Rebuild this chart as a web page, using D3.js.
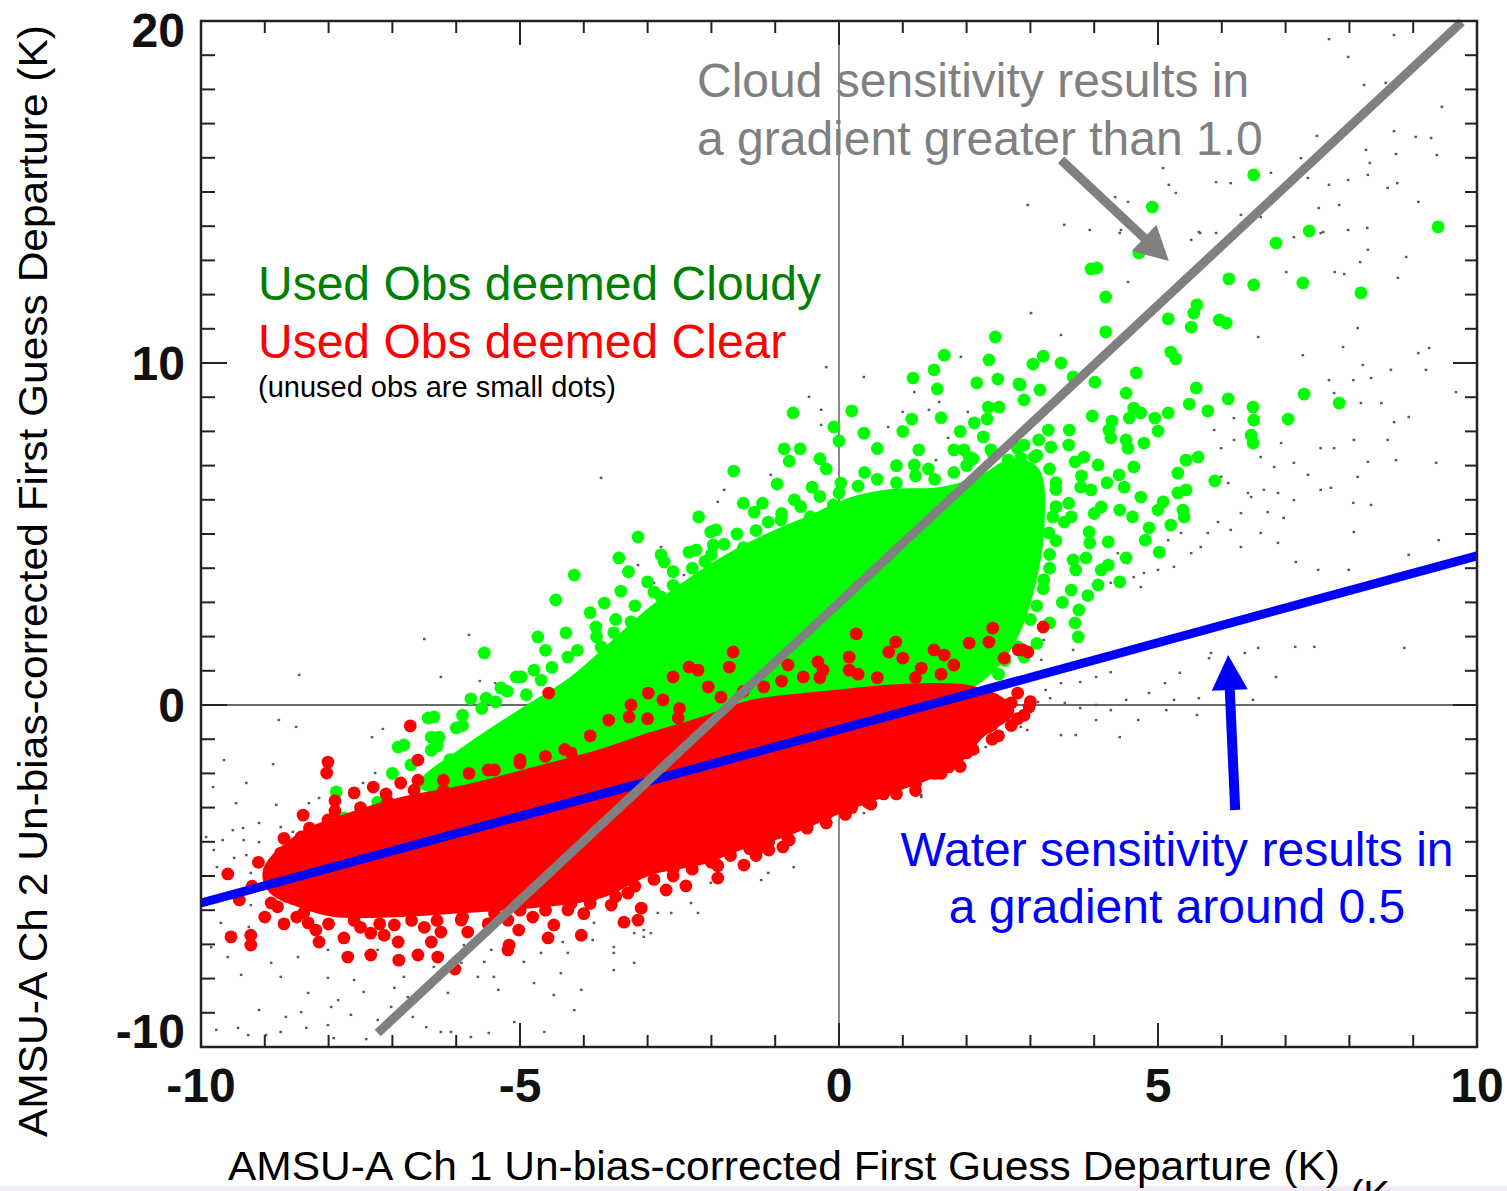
<!DOCTYPE html>
<html><head><meta charset="utf-8">
<script src="https://cdn.jsdelivr.net/npm/d3@7"></script>
<style>body{margin:0;background:#fff;overflow:hidden}svg{display:block}</style>
</head><body>
<svg id="chart" width="1507" height="1191"></svg>
<script>
// ---------------- data ----------------
const xTickLabels = [-10, -5, 0, 5, 10];
const yTickLabels = [-10, 0, 10, 20];
const xMinorTicks = d3.range(-10, 11, 1);
const yMinorTicks = d3.range(-10, 21, 1);

// Gradient lines (Ch1 dep, Ch2 dep) end points
const cloudLine = [[-7.23, -9.59], [9.76, 19.97]];   // gradient ~1.74
const waterLine = [[-10, -5.79], [10, 4.36]];        // gradient ~0.51
// annotation arrows (start -> tip), data units
const cloudArrow = [[3.48, 15.94], [5.17, 12.98]];
const waterArrow = [[6.21, -3.07], [6.10, 1.46]];

// dense (overplotted) cores of used observations: outline of the solid area
const greenCore = [[-6.55,-2.34],[-5.77,-1.17],[-4.98,-0.20],[-4.20,0.73],[-3.57,1.75],[-2.95,2.78],[-2.32,3.65],[-1.69,4.39],[-1.07,4.97],[-0.44,5.47],[0.19,5.99],[0.82,6.23],[1.60,6.29],[2.23,6.64],[2.70,7.11],[3.09,6.87],[3.17,5.12],[3.01,3.36],[2.77,2.05],[2.38,1.02],[1.91,0.44],[0.97,0.44],[-0.08,0.29],[-1.38,0.00],[-2.95,-0.94],[-4.78,-1.96],[-5.82,-2.49]];
const redCore = [[-8.98,-4.82],[-8.43,-3.80],[-7.65,-3.22],[-6.87,-2.78],[-5.82,-2.40],[-4.78,-1.90],[-3.73,-1.37],[-2.95,-0.88],[-2.16,-0.44],[-1.38,0.06],[-0.08,0.35],[0.97,0.53],[2.02,0.50],[2.54,0.15],[2.70,-0.20],[2.23,-0.88],[1.80,-1.75],[0.97,-2.40],[0.45,-2.78],[-0.08,-3.16],[-0.80,-3.74],[-1.54,-4.15],[-2.16,-4.59],[-2.95,-4.88],[-3.73,-5.56],[-4.78,-5.85],[-5.82,-5.99],[-6.87,-6.11],[-7.92,-6.11],[-8.43,-5.85],[-8.90,-5.41]];

// individual used obs deemed cloudy (green)
const cloudyObs = [[9.39,13.98],[6.50,15.50],[4.91,14.56],[4.70,13.22],[3.95,12.75],[4.04,12.78],[6.85,13.51],[7.37,13.86],[6.11,12.46],[6.50,12.28],[7.27,12.34],[8.18,12.05],[4.18,11.93],[5.61,11.70],[5.56,11.46],[5.16,11.29],[5.52,11.05],[5.96,11.26],[6.07,11.17],[4.18,10.91],[5.20,10.32],[5.28,10.12],[3.20,10.20],[3.04,9.97],[3.48,10.00],[4.66,9.71],[4.01,9.44],[3.67,9.59],[2.84,9.36],[3.15,9.21],[4.50,9.12],[5.60,9.27],[7.29,9.09],[7.84,8.83],[2.90,8.92],[5.16,8.54],[5.49,8.80],[5.78,8.60],[6.10,8.95],[6.49,8.71],[6.50,8.33],[7.04,8.36],[6.46,7.89],[6.49,7.66],[3.97,8.45],[4.28,8.30],[4.55,8.39],[4.62,8.68],[4.73,8.54],[4.95,8.39],[5.00,8.01],[3.61,8.04],[3.28,8.04],[3.13,7.75],[3.32,7.54],[4.23,8.04],[4.26,7.81],[4.50,7.75],[4.53,7.51],[4.78,7.66],[3.84,7.25],[4.06,7.02],[3.70,7.11],[2.85,7.22],[2.66,7.02],[4.62,6.96],[5.44,7.16],[5.63,7.25],[5.31,6.78],[5.89,6.55],[4.39,6.73],[4.47,6.37],[4.73,6.08],[5.31,6.20],[5.44,6.29],[3.79,6.37],[3.95,6.29],[4.11,5.79],[4.40,5.70],[5.00,5.70],[5.08,5.94],[5.39,5.70],[5.41,5.50],[5.20,5.26],[4.86,5.18],[4.80,4.82],[5.02,4.47],[4.22,4.77],[3.92,5.06],[3.93,4.74],[3.64,5.50],[3.53,5.35],[3.29,5.03],[3.67,4.24],[3.87,4.30],[4.11,3.95],[4.22,4.09],[4.06,3.51],[3.71,3.95],[3.64,3.36],[3.21,3.66],[3.76,2.78],[3.75,1.99],
[-0.72,8.54],[-0.08,8.13],[0.00,7.72],[0.39,7.95],[-0.86,7.49],[-0.61,7.49],[-0.78,7.13],[-1.65,6.84],[-0.97,6.46],[-0.42,6.37],[0.03,6.49],[1.16,9.56],[1.49,9.80],[1.54,9.24],[1.65,10.23],[2.35,10.09],[2.16,9.42],[2.49,9.53],[2.45,10.76],[2.82,9.39],[1.14,8.36],[2.34,8.71],[2.51,8.71],[2.32,8.36],[2.12,8.25],[2.26,7.84],[1.25,7.46],[1.18,7.02],[1.80,7.46],[1.96,7.46],[2.04,7.25],[2.38,7.46],[2.65,7.16],[3.06,7.25],[-1.33,5.64],[-1.11,5.35],[-0.91,5.41],[-0.45,5.50],[-0.09,5.85],[-3.15,4.91],[-3.45,4.30],[-2.79,4.39],[-2.74,4.18],[-2.35,4.47],[-2.24,4.53],[-2.01,5.06],[-1.93,5.12],[-1.97,4.68],[-3.42,3.33],[-3.68,2.98],[-2.79,3.16],[-2.52,3.16],[-3.26,2.43],
[-4.72,1.99],[-4.28,2.11],[-3.81,2.28],[-5.56,1.52],[-5.06,0.82],[-4.98,0.82],[-6.44,-0.38],[-6.35,-0.35],[-6.00,-0.67],[-6.91,-1.23],[-6.82,-1.17],[-7.88,-2.54],[-7.49,-3.13],[-7.23,-2.84],[-7.76,-3.30],[-6.71,-1.75],[-6.39,-0.94],[-6.27,-0.94],[-6.39,-1.32],[-5.77,0.18],[-5.53,0.20],[-4.78,1.02],[-4.67,0.73],[-5.38,0.09],[-4.25,1.40],[-3.73,1.70],[-3.53,2.11],[-4.15,3.80],[-4.44,3.07],
[-3.0,3.6],[-2.6,3.9],[-2.1,4.2],[-3.3,3.9],[-1.6,5.0],[-1.2,5.9],[-0.7,6.0],[-0.2,6.9],[0.4,6.8],[0.9,7.0],[1.4,6.9],[0.6,7.5],[-0.3,7.2],[1.9,8.0],[2.0,7.0],[2.9,7.6],[3.4,6.5],[3.6,5.9],[3.4,5.8],[3.3,4.4],[3.5,3.0],[3.3,2.4],[3.1,1.8],[2.9,1.4],[-4.6,1.6],[-5.2,0.4],[-5.9,-0.3],[-6.1,-1.6],[-7.0,-2.0],[-3.9,2.7],[-2.2,5.5],[-1.5,5.9],[1.0,8.0],[0.2,8.6],[1.6,8.4],[2.6,6.4],[3.8,6.7],[4.2,6.5],[3.6,7.6],[4.0,5.6],[4.6,5.5],[4.5,4.3],[4.4,3.6],[3.9,3.2],[3.7,2.4],
[-6.3,-1.2],[-5.9,-0.6],[-5.6,-0.1],[-5.3,0.5],[-4.9,0.3],[-4.5,1.1],[-4.1,1.6],[-3.8,2.0],[-3.5,2.5],[-3.2,2.9],[-2.9,3.3],[-2.6,3.5],[-2.3,4.0],[-2.0,4.4],[-1.8,4.7],[-1.5,4.6],[-1.3,5.1],[-0.9,5.6],[-0.6,5.8],[-0.3,6.1],[0.0,6.2],[0.3,6.4],[0.6,6.6],[0.9,6.5],[1.2,6.7],[1.5,6.6],[1.8,6.8],[2.1,7.2],[2.4,7.4],[2.8,7.5],[3.1,7.3],[3.3,6.9],[3.4,6.3],[3.35,5.5],[3.4,4.8],[3.3,4.0],[3.2,3.4],[3.1,2.9],[3.0,2.5],[2.8,1.7],[2.6,1.3],[2.5,0.9]];

// individual used obs deemed clear (red)
const clearObs = [[-4.55,0.35],[-6.72,-0.61],[-6.60,-1.61],[-8.01,-1.67],[-8.03,-1.99],[-7.60,-2.57],[-6.87,-2.28],[-6.66,-2.49],[-7.07,-2.84],[-8.40,-3.22],[-8.01,-3.36],[-8.43,-3.86],[-8.75,-4.33],[-8.79,-4.53],[-9.58,-4.94],[-8.90,-5.03],[-8.90,-5.79],[-9.53,-6.78],[-9.22,-6.73],[-9.22,-7.02],[-8.56,-5.50],[-8.39,-6.08],[-8.32,-6.37],[-8.20,-6.58],[-8.15,-6.93],[-7.76,-6.81],[-7.70,-7.37],[-7.34,-7.31],[-7.34,-6.67],[-6.97,-6.43],[-7.13,-6.73],[-6.91,-6.93],[-6.90,-7.46],[-6.60,-7.31],[-6.39,-6.93],[-6.24,-6.64],[-5.92,-6.29],[-6.29,-7.37],[-5.82,-6.64],[-5.17,-7.02],[-5.02,-6.58],[-4.56,-6.81],[-4.04,-6.73],[-4.25,-5.99],[-3.57,-5.85],[-3.37,-6.35],[-3.15,-6.29],[-3.10,-5.94],[-3.86,-5.56],[-4.47,-6.43],[-5.19,-6.29],[-6.02,-7.72],[-5.19,-7.16],[-0.20,-3.45],[-0.78,-3.95],[-0.88,-4.15],[-1.22,-4.15],[-1.10,-4.24],[-1.49,-4.68],[-1.90,-5.06],[-2.40,-5.29],[-2.71,-5.41],[-3.31,-5.50],[0.45,-2.84],[1.72,-1.81],[1.76,-1.23],[1.49,-0.94],[2.12,-0.53],[2.34,-0.64],[2.49,-0.15],[2.98,-0.06],[2.70,0.06],[1.87,-0.23],[0.27,2.08],[0.89,1.84],[0.78,1.55],[1.00,1.37],[1.49,1.61],[1.65,1.46],[2.04,1.81],[2.35,1.84],[2.41,2.25],[3.20,2.28],[2.59,1.37],[2.81,1.61],[2.96,1.55],[0.16,1.40],[0.16,1.02],[-0.33,1.26],[-0.25,1.02],[-0.56,0.82],[-0.80,1.17],[-1.66,1.55],[-1.72,1.11],[-2.35,1.11],[-2.21,1.02],[-2.60,0.82],[-2.99,0.35],[-3.26,0.00],[-3.29,-0.35],[-3.61,-0.44],[-2.76,0.15],[-2.52,-0.38],[-2.05,0.53],[-1.85,0.23],[-1.18,0.53],[1.29,1.08],[1.80,1.17],[2.63,0.00],[2.40,-0.58],[2.10,-0.58],[1.74,-1.26],[1.44,-1.52],[0.78,-2.40],[2.88,1.61],
[-0.9,0.7],[-0.3,0.8],[0.3,0.9],[0.6,0.8],[1.2,0.8],[1.6,0.9],[-1.5,0.4],[-2.5,-0.1],[-3.0,-0.4],[-3.9,-0.9],[-4.3,-1.3],[-5.0,-1.6],[-5.5,-1.9],[-6.2,-2.2],[-7.3,-2.4],[-7.9,-2.8],[-8.6,-4.4],[-9.2,-5.3],[-9.4,-5.7],[-9.0,-6.2],[-8.7,-6.4],[-7.5,-6.5],[-6.5,-6.5],[-5.5,-6.4],[-4.8,-6.2],[-4.0,-6.1],[-2.6,-5.0],[-1.9,-4.7],[-1.3,-4.4],[-0.5,-3.6],[0.1,-3.2],[0.7,-2.6],[1.2,-2.3],[1.5,-2.0],[2.0,-1.4],[2.5,-0.9],[2.8,-0.4],
[-8.8,-5.9],[-8.5,-6.2],[-8.0,-6.4],[-7.6,-6.3],[-7.2,-6.4],[-6.7,-6.3],[-6.3,-6.3],[-5.9,-6.2],[-5.4,-6.1],[-5.0,-6.0],[-4.6,-6.0],[-4.2,-5.8],[-3.9,-5.8],[-3.5,-5.6],[-3.2,-5.3],[-2.9,-5.1],[-2.6,-4.8],[-2.3,-4.8],[-2.0,-4.6],[-1.7,-4.4],[-1.4,-4.2],[-1.1,-4.0],[-0.8,-3.9],[-0.5,-3.5],[-0.2,-3.2],[0.2,-3.0],[0.5,-2.9],[0.9,-2.6],[1.2,-2.5],[1.6,-2.0],[1.9,-1.8],[2.1,-1.3],[2.4,-1.0],[2.7,-0.6],[2.9,-0.3],[3.0,0.1],[2.8,0.35],
[-9.1,-4.6],[-8.7,-3.9],[-8.3,-3.6],[-7.9,-3.1],[-7.5,-3.0],[-7.1,-2.6],[-6.6,-2.2],[-6.2,-2.5],[-5.8,-2.0],[-5.4,-1.9],[-5.0,-1.7],[-4.6,-1.5],[-4.2,-1.4]];

// unused obs (small dots)
const unusedObs = [[2.96,14.62],[3.53,14.04],[3.93,13.89],[4.40,13.80],[5.66,13.80],[5.91,13.80],[7.55,13.80],[8.29,13.31],[8.89,13.10],[8.17,12.95],[7.01,12.66],[7.77,12.66],[7.92,12.60],[8.76,12.49],[4.53,12.37],[3.01,11.46],[3.48,10.82],[6.57,10.76],[8.13,11.02],[7.90,10.47],[9.25,10.44],[7.27,10.23],[9.08,10.29],[8.21,9.94],[8.65,9.80],[9.20,9.80],[8.34,9.56],[7.68,9.50],[8.06,9.50],[9.67,9.15],[8.50,8.83],[8.18,8.83],[7.76,9.12],[8.93,8.42],[8.70,8.27],[8.60,7.75],[8.07,7.75],[7.76,7.51],[7.55,7.51],[8.29,7.11],[8.73,7.16],[9.36,7.08],[8.13,6.67],[8.34,5.85],[8.06,5.91],[7.71,6.35],[7.35,6.73],[7.13,5.99],[6.88,6.20],[6.66,6.29],[6.46,6.08],[6.30,5.61],[6.72,5.64],[6.97,5.47],[8.07,5.06],[9.40,4.82],[8.93,4.39],[7.51,3.95],[7.99,3.95],[7.16,4.18],[6.88,4.74],[6.61,5.03],[6.30,4.62],[6.14,5.12],[5.94,5.35],[5.78,5.03],[5.67,4.62],[5.52,4.44],[5.25,4.04],[5.00,3.95],[4.78,3.86],[4.62,3.74],[4.53,4.15],[4.37,4.44],[4.26,3.57],[4.73,3.45],[5.36,5.03],[5.16,4.82],[5.99,6.67],[6.10,6.49],[6.41,6.20],[5.67,7.37],[5.99,7.51],[6.19,7.75],[6.61,7.25],[6.82,6.96],[5.88,8.04],[6.19,8.39],[6.93,7.66],[7.13,7.08],[7.55,6.29],
[7.68,19.47],[8.70,19.59],[7.98,18.95],[8.23,18.13],[8.57,18.19],[9.45,17.49],[8.70,16.78],[9.04,16.61],[9.28,16.58],[7.49,16.64],[8.26,16.23],[8.73,16.11],[9.37,16.08],[8.32,15.85],[7.24,15.99],[6.77,15.56],[7.98,15.35],[8.29,15.50],[8.60,15.12],[8.75,15.26],[7.68,15.21],[7.35,15.41],[7.84,14.62],[7.52,14.53],[9.08,14.71],[7.98,13.89],[7.59,13.83],[8.28,13.95],[7.13,13.68],[6.61,14.27],[6.30,14.33],[6.14,15.26],[5.91,15.29],[5.17,15.21],[5.28,14.97],[5.08,15.70],[5.52,13.60],[5.64,13.83],[4.42,13.89],[4.53,14.71],[4.33,14.85],
[-9.58,-7.37],[-9.37,-7.89],[-8.75,-7.95],[-8.01,-7.98],[-8.32,-8.42],[-9.09,-8.92],[-8.43,-8.98],[-8.67,-9.12],[-9.76,-9.50],[-9.42,-9.44],[-9.26,-9.65],[-8.98,-9.65],[-8.75,-9.56],[-8.35,-9.44],[-8.01,-9.36],[-7.92,-9.74],[-7.41,-9.77],[-7.23,-9.21],[-7.65,-9.06],[-7.85,-8.63],[-7.45,-8.39],[-6.97,-8.27],[-6.82,-7.95],[-6.68,-9.12],[-6.47,-9.42],[-6.24,-9.56],[-6.08,-9.56],[-5.77,-9.71],[-5.49,-9.59],[-5.09,-9.27],[-4.62,-9.56],[-4.15,-8.92],[-4.47,-8.48],[-4.78,-8.13],[-5.34,-8.33],[-5.66,-7.95],[-6.13,-8.42],[-6.39,-8.25],[-5.92,-7.54],[-5.56,-7.51],[-5.41,-7.95],[-4.94,-7.51],[-4.36,-7.84],[-4.04,-8.33],[-6.76,-8.54],[-7.02,-8.83],[-7.96,-8.83],[-7.60,-8.04],[-6.35,-7.66],
[-6.50,1.93],[-5.80,2.05],[-8.46,0.88],[-6.24,0.82],[-5.63,0.70],[-5.39,0.64],[-8.78,-0.44],[-8.51,-0.64],[-7.15,-0.70],[-7.32,-0.94],[-9.64,-1.61],[-8.87,-1.73],[-7.27,-1.99],[-7.46,-2.28],[-9.29,-2.28],[-9.81,-2.40],[-9.45,-2.87],[-8.82,-2.92],[-8.31,-2.87],[-8.15,-2.72],[-9.09,-3.45],[-9.34,-3.60],[-9.50,-3.66],[-8.75,-3.57],[-8.56,-3.71],[-9.92,-3.86],[-9.66,-3.95],[-9.33,-3.95],[-9.09,-4.01],[-9.80,-4.24],[-9.48,-4.47],[-9.29,-4.39],[-9.75,-4.74],[-9.22,-4.91],[-9.34,-5.41],[-9.72,-5.61],[-9.22,-5.85],[-9.69,-6.37],[-9.25,-6.49],[-9.84,-7.08],[-8.90,-7.54],[-8.48,-7.37],[-8.01,-7.16],[-7.23,-7.16],[-6.60,-7.25],[-5.88,-7.02],[-5.45,-7.16],[-4.67,-7.25],[-4.25,-7.25],[-3.86,-6.87],[-3.53,-7.25],[-3.21,-7.54],[-3.06,-6.78],[-3.84,-6.37],[-4.33,-6.93],
[3.21,1.90],[3.17,1.32],[3.01,0.23],[2.70,-0.44],[2.85,-0.64],[2.43,-0.94],[2.02,-1.02],[2.18,-1.37],[1.87,-1.52],[1.49,-2.11],[1.29,-2.69],[0.86,-2.19],[0.77,-2.57],[0.39,-3.16],[-0.13,-3.45],[-0.39,-3.27],[-0.71,-4.74],[-1.11,-4.91],[-1.22,-5.12],[-1.74,-4.44],[-1.88,-4.53],[-2.01,-5.20],[-2.32,-5.79],[-2.63,-6.08],[-2.84,-6.08],[-3.06,-6.58],[-3.21,-6.67],[-3.53,-7.08],[-3.53,-7.75],[-2.95,-6.67],[-2.21,-6.08],
[3.18,1.81],[3.67,1.61],[4.26,0.96],[4.03,0.82],[3.78,0.67],[3.48,0.64],[3.24,0.44],[3.31,0.20],[3.12,0.09],[3.54,0.06],[3.78,-0.09],[4.03,0.00],[4.26,-0.15],[4.50,0.15],[4.86,0.35],[5.11,0.64],[5.34,0.94],[5.83,1.52],[6.36,1.52],[6.57,1.67],[7.15,1.70],[7.45,1.70],[8.86,1.67],[4.69,-0.44],[4.40,-0.94],[3.71,-0.88],[3.48,-0.88],[2.95,-0.73],[2.16,-1.02],[2.30,-1.23],[5.13,-0.15],[5.61,-0.29],[5.25,0.15],[6.49,0.15],[5.64,0.20],[6.85,0.82],[5.80,1.37],[4.03,-0.44],[1.29,-2.63],
[-0.20,9.88],[-0.47,9.01],[-0.28,8.63],[-0.28,8.19],[-1.07,6.73],[-1.80,6.29],[-1.90,5.94],[-2.79,4.62],[-2.43,3.80],[-2.90,3.57],[-2.66,3.57],[-3.15,4.09],[-2.05,4.15],[1.00,8.57],[1.57,8.86],[1.41,8.63],[0.77,8.13],[1.71,7.81],[2.02,8.57],[1.52,7.16],[-3.73,6.64],[0.39,9.59],[1.18,9.15],[1.91,10.18]];

// ---------------- scales ----------------
const L = 201, R = 1477, T = 21, B = 1047;
const x = d3.scaleLinear().domain([-10, 10]).range([L, R]);
const y = d3.scaleLinear().domain([-10, 20]).range([B, T]);

const svg = d3.select('#chart');
const FONT = '"Liberation Sans", Arial, Helvetica, sans-serif';

svg.append('rect').attr('width', 1507).attr('height', 1191).attr('fill', '#fff');
svg.append('rect').attr('x', 0).attr('y', 1186).attr('width', 1507).attr('height', 5).attr('fill', '#f3e8f7');

svg.append('defs').append('clipPath').attr('id', 'plotclip')
  .append('rect').attr('x', L).attr('y', T).attr('width', R - L).attr('height', B - T);

const plot = svg.append('g').attr('clip-path', 'url(#plotclip)');

// zero lines
plot.append('line').attr('x1', x(0)).attr('x2', x(0)).attr('y1', T).attr('y2', B)
  .attr('stroke', '#8a8a8a').attr('stroke-width', 2);
plot.append('line').attr('x1', L).attr('x2', R).attr('y1', y(0)).attr('y2', y(0))
  .attr('stroke', '#6a6a6a').attr('stroke-width', 2);

// unused obs
plot.append('g').selectAll('rect').data(unusedObs).join('rect')
  .attr('x', d => x(d[0]) - 1.3).attr('y', d => y(d[1]) - 1.2)
  .attr('width', 2.6).attr('height', 2.4).attr('fill', '#5a5a5a');

const area = d3.line().x(d => x(d[0])).y(d => y(d[1])).curve(d3.curveCatmullRomClosed);
const GREEN = '#00ff00', RED = '#ff0000', R_DOT = 6.4;

// cloudy (green)
plot.append('path').attr('d', area(greenCore)).attr('fill', GREEN)
  .attr('stroke', GREEN).attr('stroke-width', 6).attr('stroke-linejoin', 'round');
plot.append('g').selectAll('circle').data(cloudyObs).join('circle')
  .attr('cx', d => x(d[0])).attr('cy', d => y(d[1])).attr('r', R_DOT).attr('fill', GREEN);

// clear (red)
plot.append('path').attr('d', area(redCore)).attr('fill', RED)
  .attr('stroke', RED).attr('stroke-width', 6).attr('stroke-linejoin', 'round');
plot.append('g').selectAll('circle').data(clearObs).join('circle')
  .attr('cx', d => x(d[0])).attr('cy', d => y(d[1])).attr('r', R_DOT).attr('fill', RED);

// gradient lines
const seg = d3.line().x(d => x(d[0])).y(d => y(d[1]));
svg.append('path').attr('d', seg(waterLine)).attr('stroke', '#0000ff').attr('stroke-width', 9).attr('fill', 'none');
svg.append('path').attr('d', seg(cloudLine)).attr('stroke', '#808080').attr('stroke-width', 9).attr('fill', 'none');

// axes frame & ticks
const ax = svg.append('g');
ax.append('rect').attr('x', L).attr('y', T).attr('width', R - L).attr('height', B - T)
  .attr('fill', 'none').attr('stroke', '#222').attr('stroke-width', 2.5);
function tickLen(v, majors) { return majors.includes(v) ? 24 : 12; }
const xMaj = [-10, -5, 0, 5, 10], yMaj = [-10, 0, 10, 20];
ax.selectAll('.xb').data(xMinorTicks).join('line').attr('class', 'xb')
  .attr('x1', d => x(d)).attr('x2', d => x(d)).attr('y1', B).attr('y2', d => B - tickLen(d, xMaj))
  .attr('stroke', '#222').attr('stroke-width', 2);
ax.selectAll('.xt').data(xMinorTicks).join('line').attr('class', 'xt')
  .attr('x1', d => x(d)).attr('x2', d => x(d)).attr('y1', T).attr('y2', d => T + tickLen(d, xMaj))
  .attr('stroke', '#222').attr('stroke-width', 2);
ax.selectAll('.yl').data(yMinorTicks).join('line').attr('class', 'yl')
  .attr('y1', d => y(d)).attr('y2', d => y(d)).attr('x1', L).attr('x2', d => L + tickLen(d, yMaj) + 2)
  .attr('stroke', '#222').attr('stroke-width', 2);
ax.selectAll('.yr').data(yMinorTicks).join('line').attr('class', 'yr')
  .attr('y1', d => y(d)).attr('y2', d => y(d)).attr('x1', R).attr('x2', d => R - tickLen(d, yMaj))
  .attr('stroke', '#222').attr('stroke-width', 2);

// tick labels (ends of the y axis are nudged inward, as in the original)
const yLabelShift = v => v === 20 ? 26 : (v === -10 ? 1 : 17);
ax.selectAll('.xlab').data(xTickLabels).join('text').attr('class', 'xlab')
  .attr('x', d => x(d)).attr('y', 1102).attr('text-anchor', 'middle')
  .attr('font-family', FONT).attr('font-weight', 'bold').attr('font-size', 48).attr('fill', '#111')
  .text(d => d);
ax.selectAll('.ylab').data(yTickLabels).join('text').attr('class', 'ylab')
  .attr('x', 185).attr('y', d => y(d) + yLabelShift(d)).attr('text-anchor', 'end')
  .attr('font-family', FONT).attr('font-weight', 'bold').attr('font-size', 48).attr('fill', '#111')
  .text(d => d);

// axis titles
svg.append('text').attr('x', 228).attr('y', 1180)
  .attr('font-family', FONT).attr('font-size', 41).attr('fill', '#000')
  .attr('textLength', 1112).attr('lengthAdjust', 'spacingAndGlyphs')
  .text('AMSU-A Ch 1 Un-bias-corrected First Guess Departure (K)');
svg.append('text').attr('transform', 'translate(47,1137) rotate(-90)')
  .attr('font-family', FONT).attr('font-size', 41).attr('fill', '#000')
  .attr('textLength', 1112).attr('lengthAdjust', 'spacingAndGlyphs')
  .text('AMSU-A Ch 2 Un-bias-corrected First Guess Departure (K)');
svg.append('text').attr('x', 1350).attr('y', 1209)
  .attr('font-family', FONT).attr('font-size', 40).attr('fill', '#000').text('(K');

// legend
svg.append('text').attr('x', 258).attr('y', 300).attr('font-family', FONT).attr('font-size', 48)
  .attr('fill', '#008000').text('Used Obs deemed Cloudy');
svg.append('text').attr('x', 258).attr('y', 358).attr('font-family', FONT).attr('font-size', 48)
  .attr('fill', '#ff0000').text('Used Obs deemed Clear');
svg.append('text').attr('x', 258).attr('y', 397).attr('font-family', FONT).attr('font-size', 29)
  .attr('fill', '#000').text('(unused obs are small dots)');

// annotations
function arrow(p0, p1, color, w, headLen, headHalf) {
  const x0 = x(p0[0]), y0 = y(p0[1]), x1 = x(p1[0]), y1 = y(p1[1]);
  const dx = x1 - x0, dy = y1 - y0, len = Math.hypot(dx, dy), ux = dx / len, uy = dy / len;
  const bx = x1 - ux * headLen, by = y1 - uy * headLen;
  svg.append('line').attr('x1', x0).attr('y1', y0).attr('x2', bx + ux * 3).attr('y2', by + uy * 3)
    .attr('stroke', color).attr('stroke-width', w);
  svg.append('path').attr('d', `M${x1},${y1}L${bx - uy * headHalf},${by + ux * headHalf}L${bx + uy * headHalf},${by - ux * headHalf}Z`)
    .attr('fill', color);
}
arrow(cloudArrow[0], cloudArrow[1], '#808080', 9, 34, 18);
arrow(waterArrow[0], waterArrow[1], '#0000ff', 10, 35, 18);

const cloudTxt = svg.append('text').attr('font-family', FONT).attr('font-size', 48).attr('fill', '#808080');
cloudTxt.append('tspan').attr('x', 697).attr('y', 97).text('Cloud sensitivity results in');
cloudTxt.append('tspan').attr('x', 697).attr('y', 155).text('a gradient greater than 1.0');
const waterTxt = svg.append('text').attr('font-family', FONT).attr('font-size', 48).attr('fill', '#0000ff')
  .attr('text-anchor', 'middle');
waterTxt.append('tspan').attr('x', 1177).attr('y', 866).text('Water sensitivity results in');
waterTxt.append('tspan').attr('x', 1177).attr('y', 923).text('a gradient around 0.5');
</script>
</body></html>
